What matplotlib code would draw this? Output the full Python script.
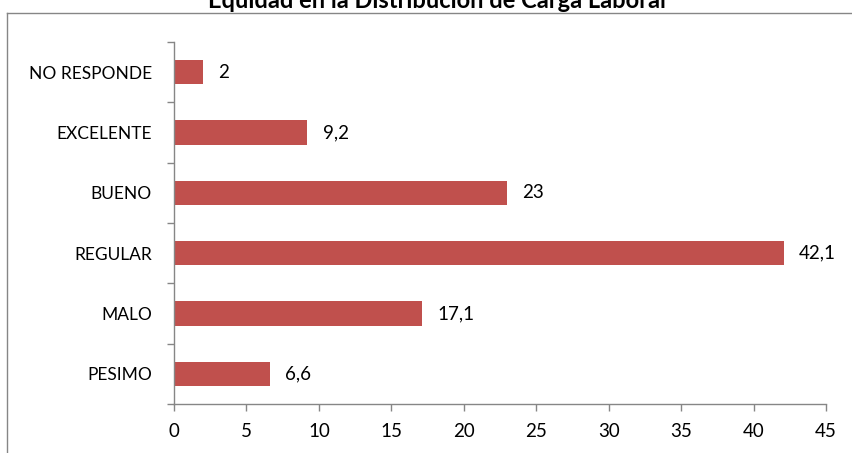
import matplotlib.pyplot as plt
from matplotlib.lines import Line2D
import numpy as np

categories = ["PESIMO", "MALO", "REGULAR", "BUENO", "EXCELENTE", "NO RESPONDE"]
values = [6.6, 17.1, 42.1, 23, 9.2, 2]
value_labels = ["6,6", "17,1", "42,1", "23", "9,2", "2"]
x_ticks = [0, 5, 10, 15, 20, 25, 30, 35, 40, 45]

plt.rcParams['font.family'] = ['Lato', 'DejaVu Sans']

BAR_COLOR = '#C0504D'
AXIS_COLOR = '#868686'
FS = 12.5      # category labels
FS_NUM = 13.5  # numbers (ticks and bar values)

fig = plt.figure(figsize=(8.53, 4.53), dpi=100)
ax = fig.add_axes([174 / 853, 1 - 404 / 453, (826 - 174) / 853, (404 - 42) / 453])

y = np.arange(len(categories))
ax.barh(y, values, height=0.4, color=BAR_COLOR)

for yi, v, lab in zip(y, values, value_labels):
    ax.text(v + 1.05, yi, lab, va='center', ha='left', fontsize=FS_NUM, color='black')

ax.set_xlim(0, 45)
ax.set_ylim(-0.5, len(categories) - 0.5)
ax.set_xticks(x_ticks)
ax.set_xticklabels([str(t) for t in x_ticks], fontsize=FS_NUM)
ax.set_yticks(y)
ax.set_yticklabels(categories, fontsize=FS)
ax.set_yticks(np.arange(-0.5, len(categories)), minor=True)

ax.tick_params(axis='y', which='major', length=0, pad=16)
ax.tick_params(axis='y', which='minor', length=5, direction='out', color=AXIS_COLOR, width=1)
ax.tick_params(axis='x', length=5, direction='out', color=AXIS_COLOR, width=1, pad=9)

for side in ['top', 'right']:
    ax.spines[side].set_visible(False)
for side in ['left', 'bottom']:
    ax.spines[side].set_color(AXIS_COLOR)
    ax.spines[side].set_linewidth(1)

# outer chart frame, cut off at right and bottom
fx = 7.5 / 853
fy = 1 - 12.5 / 453
fig.add_artist(Line2D([fx, fx], [0, fy], transform=fig.transFigure, color=AXIS_COLOR, lw=1))
fig.add_artist(Line2D([fx, 1], [fy, fy], transform=fig.transFigure, color=AXIS_COLOR, lw=1))

fig.text(437 / 853, 1 - 7.5 / 453, "Equidad en la Distribución de Carga Laboral",
         ha='center', va='baseline', fontsize=17, fontweight='bold')

fig.savefig("out.png", dpi=100)
